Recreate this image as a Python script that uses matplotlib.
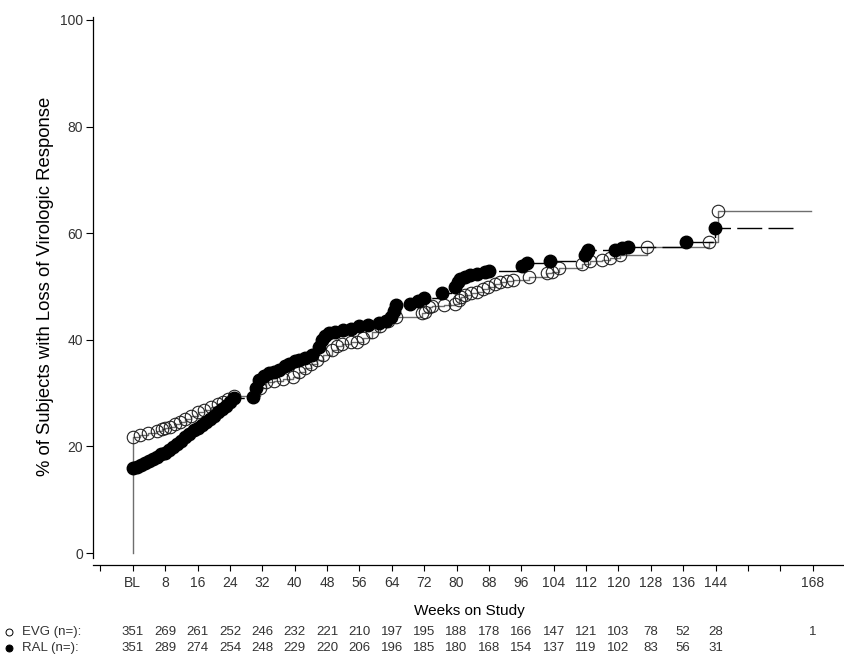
import matplotlib
matplotlib.use('Agg')
import matplotlib.pyplot as plt
import matplotlib.transforms as mtransforms

plt.rcParams['font.family'] = ['Liberation Sans', 'DejaVu Sans']

# KM event points (weeks, cumulative % with loss of response)
evg_weeks = [0, 1.7, 3.8, 6, 7.1, 8, 9.1, 10.5, 11.6, 13, 14.5, 16.1, 17.5, 19.4, 21, 22.2,
             23.5, 25.1, 31.5, 33, 35, 37, 39.5, 41, 42.5, 44, 45.5, 47, 49.3, 50.5, 51.8,
             54, 55.5, 57, 59, 61, 63, 65, 71.5, 72.3, 73.2, 74, 77, 79.7, 80.5, 81.2,
             82.2, 83.5, 85, 86.5, 87.9, 89.5, 90.8, 92.5, 94, 97.8, 102.3, 103.5, 105.2,
             111, 113, 116, 117.9, 120.4, 127, 142.5, 144.6]
evg_pct = [21.8, 22.1, 22.5, 22.9, 23.2, 23.5, 23.7, 24.2, 24.6, 25.2, 25.8, 26.5, 26.9, 27.4,
           28.0, 28.4, 28.9, 29.5, 31.0, 32.0, 32.3, 32.6, 33.0, 34.0, 34.8, 35.5, 36.3, 37.2,
           38.1, 38.8, 39.3, 39.5, 39.6, 40.3, 41.5, 42.5, 43.5, 44.3, 45.0, 45.3, 46.2, 46.4,
           46.6, 46.8, 47.5, 48.0, 48.4, 48.7, 49.0, 49.5, 50.0, 50.4, 50.9, 51.0, 51.2, 51.8,
           52.5, 52.8, 53.4, 54.2, 54.7, 55.0, 55.3, 55.9, 57.5, 58.4, 64.2]
evg_last = 167.5

ral_weeks = [0, 1, 2, 3, 4, 5, 6, 7, 8, 9, 10, 11, 12, 13, 14, 15, 16, 17, 18, 19, 20, 21,
             22, 23, 24, 25, 29.6, 30.5, 31.3, 32.5, 33.7, 35, 36.2, 37.5, 38.7, 40, 41.1,
             42.5, 44.4, 46, 46.8, 47.5, 48.5, 50, 52, 54, 56, 58, 60.8, 62.5, 63.7, 64.5,
             65, 68.6, 70.5, 71.9, 76.4, 79.7, 80.3, 80.9, 82, 83.4, 85, 87.1, 88, 96.1,
             97.3, 103.1, 111.7, 112.2, 112.6, 119.1, 121, 122.4, 136.8, 143.8]
ral_pct = [15.9, 16.1, 16.5, 16.8, 17.2, 17.7, 18.1, 18.5, 18.8, 19.3, 19.9, 20.5, 21.1, 21.8,
           22.4, 23.0, 23.5, 24.0, 24.6, 25.1, 25.7, 26.4, 27.0, 27.6, 28.3, 29.0, 29.2, 31.0,
           32.5, 33.2, 33.7, 34.0, 34.3, 35.0, 35.5, 36.0, 36.2, 36.6, 37.1, 38.7, 40.0, 40.8,
           41.3, 41.5, 41.8, 42.0, 42.5, 42.8, 43.1, 43.6, 44.3, 45.5, 46.5, 46.8, 47.3, 47.8,
           48.7, 50.0, 50.8, 51.5, 51.8, 52.2, 52.4, 52.8, 53.0, 53.8, 54.4, 54.7, 55.9, 56.4,
           56.8, 56.9, 57.3, 57.5, 58.4, 60.9]
ral_last = 163.8

# number at risk table
risk_weeks = [0, 8, 16, 24, 32, 40, 48, 56, 64, 72, 80, 88, 96, 104, 112, 120, 128, 136, 144]
evg_n = [351, 269, 261, 252, 246, 232, 221, 210, 197, 195, 188, 178, 166, 147, 121, 103, 78, 52, 28]
ral_n = [351, 289, 274, 254, 248, 229, 220, 206, 196, 185, 180, 168, 154, 137, 119, 102, 83, 56, 31]
evg_n_168 = 1

xtick_pos = list(range(-8, 177, 8))
xtick_lab = {0: 'BL', 168: '168'}
for w in risk_weeks[1:]:
    xtick_lab[w] = str(w)

fig = plt.figure(figsize=(8.45, 6.59), dpi=100)
ax = fig.add_axes([0.110, 0.1426, 0.890, 0.8311])

# step lines: EVG starts from 0 at BL (the grey riser), RAL from its first value
ax.plot([0] + evg_weeks + [evg_last], [0] + evg_pct + [evg_pct[-1]],
        drawstyle='steps-post', color='#6e6e6e', lw=1.0, zorder=2)
ax.plot(ral_weeks + [ral_last], ral_pct + [ral_pct[-1]],
        drawstyle='steps-post', color='black', lw=1.0, dashes=(18, 4.5), zorder=3)

ax.plot(evg_weeks, evg_pct, ls='none', marker='o', ms=9, mfc='none', mec='#222222',
        mew=0.8, zorder=4)
ax.plot(ral_weeks, ral_pct, ls='none', marker='o', ms=9, mfc='black', mec='black',
        zorder=5)

ax.set_xlim(-9.85, 175.4)
ax.set_ylim(-2.25, 100.5)
ax.set_yticks([0, 20, 40, 60, 80, 100])
ax.set_xticks(xtick_pos)
ax.set_xticklabels([xtick_lab.get(t, '') for t in xtick_pos])

for s in ['top', 'right']:
    ax.spines[s].set_visible(False)
ax.spines['left'].set_bounds(-1, 100.5)
ax.spines['left'].set_linewidth(0.9)
ax.spines['bottom'].set_linewidth(0.9)
ax.tick_params(axis='both', direction='out', labelsize=10, labelcolor='#333333', width=0.8)
ax.tick_params(axis='y', length=5, pad=2)
ax.tick_params(axis='x', length=4, pad=4)

ax.set_xlabel('Weeks on Study', fontsize=11, labelpad=10)
ax.set_ylabel('% of Subjects with Loss of Virologic Response', fontsize=13.3)
ax.yaxis.set_label_coords(-0.052, 0.508)

# at-risk rows under the axis (x in data units, y in figure units)
trans = mtransforms.blended_transform_factory(ax.transData, fig.transFigure)
row_y = [1 - 632 / 659, 1 - 648 / 659]
for yy, name, nums, face in [(row_y[0], 'EVG (n=):', evg_n, 'none'),
                             (row_y[1], 'RAL (n=):', ral_n, 'black')]:
    fig.lines.append(plt.Line2D([9 / 845], [yy], transform=fig.transFigure, marker='o',
                                ms=5, mfc=face, mec='black', mew=0.7, ls='none'))
    fig.text(22 / 845, yy, name, fontsize=9.5, color='#333333', va='center')
    for w, n in zip(risk_weeks, nums):
        ax.text(w, yy, str(n), transform=trans, fontsize=9.5, color='#333333',
                ha='center', va='center', clip_on=False)
ax.text(168, row_y[0], str(evg_n_168), transform=trans, fontsize=9.5, color='#333333',
        ha='center', va='center', clip_on=False)

fig.savefig('out.png', dpi=100)
